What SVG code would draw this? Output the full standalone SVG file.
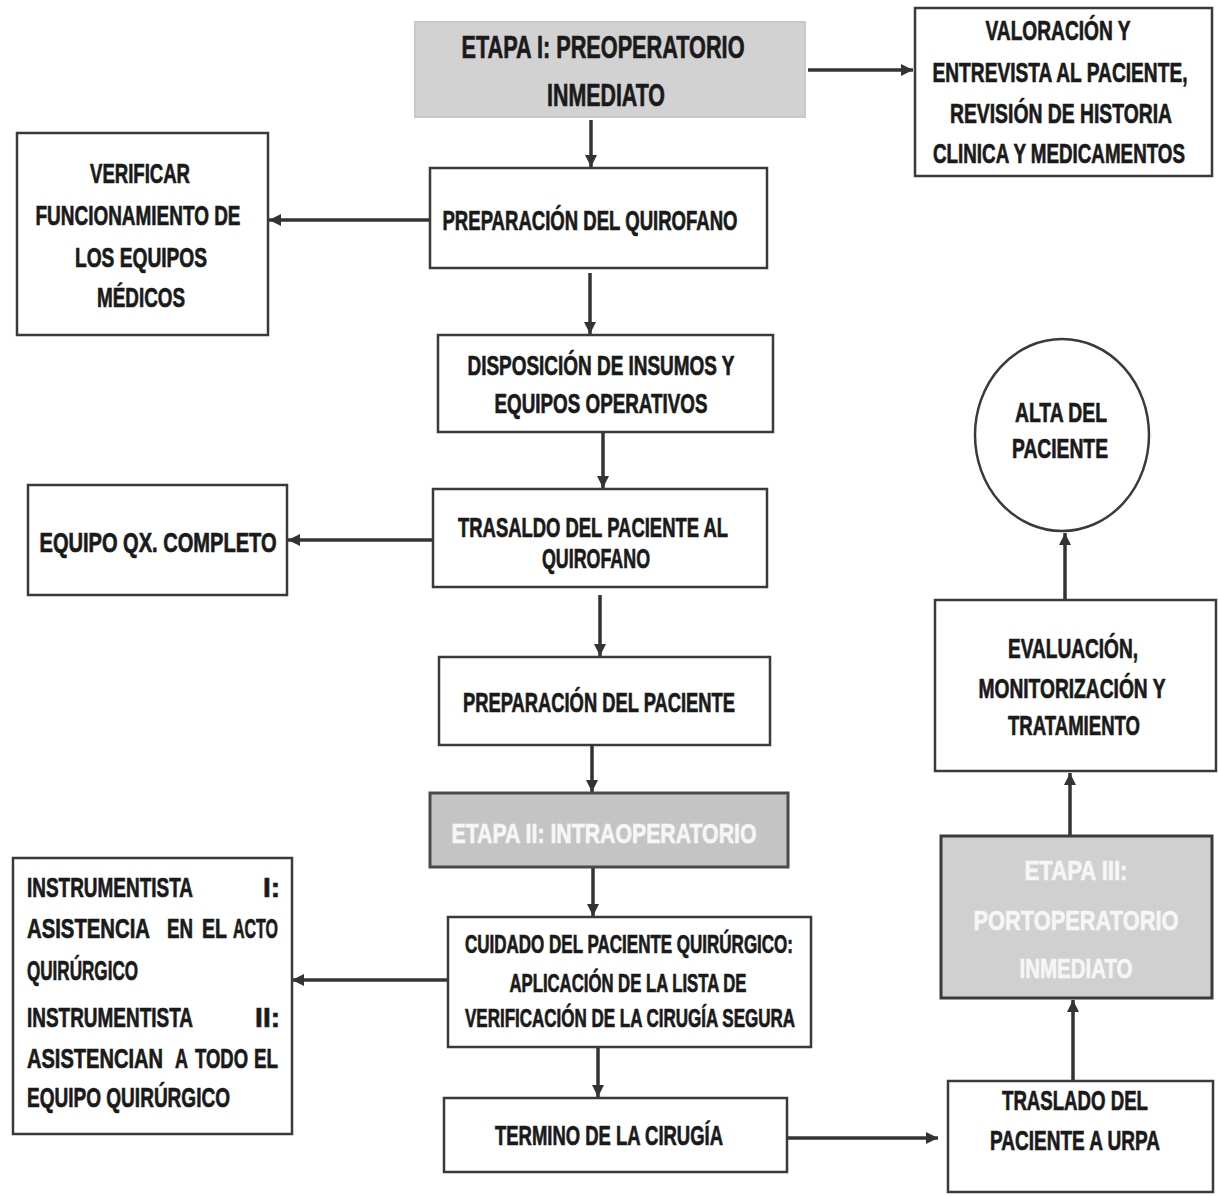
<svg xmlns="http://www.w3.org/2000/svg" width="1218" height="1197" viewBox="0 0 1218 1197">
<defs>
<marker id="ah" viewBox="0 0 10 10" refX="10" refY="5" markerUnits="userSpaceOnUse" markerWidth="12" markerHeight="12" orient="auto">
<path d="M0,0 L10,5 L0,10 z" fill="#333"/>
</marker>
<style>
.box{fill:#fff;stroke:#3a3a3a;stroke-width:2.5}
.g1{fill:#d2d2d2;stroke:#c8c8c8;stroke-width:2}
.g2{fill:#c4c4c4;stroke:#4a4a4a;stroke-width:3}
.g3{fill:#d0d0d0;stroke:#3a3a3a;stroke-width:3}
text{font-family:"Liberation Sans",Arial,sans-serif;font-weight:bold;fill:#1a1a1a;stroke:#1a1a1a;stroke-width:0.7;font-size:28px}
.c{text-anchor:middle}
.w{fill:#f6f6f6;stroke:#f6f6f6}
.sm{font-size:25px}
.lg{font-size:32px}
.conn line{stroke:#333;stroke-width:3.5;marker-end:url(#ah)}
</style>
</defs>
<rect width="1218" height="1197" fill="#fff"/>

<g class="conn" id="connectors">
<line x1="808" y1="70" x2="913" y2="70"/>
<line x1="591" y1="120" x2="591" y2="167"/>
<line x1="430" y1="220" x2="269" y2="220"/>
<line x1="590" y1="273" x2="590" y2="334"/>
<line x1="603" y1="432" x2="603" y2="488"/>
<line x1="433" y1="540" x2="288" y2="540"/>
<line x1="600" y1="595" x2="600" y2="656"/>
<line x1="592" y1="746" x2="592" y2="792"/>
<line x1="593" y1="868" x2="593" y2="916"/>
<line x1="448" y1="980" x2="292" y2="980"/>
<line x1="598" y1="1047" x2="598" y2="1097"/>
<line x1="787" y1="1138" x2="938" y2="1138"/>
<line x1="1073" y1="1080" x2="1073" y2="1000"/>
<line x1="1070" y1="836" x2="1070" y2="773"/>
<line x1="1065" y1="600" x2="1065" y2="533"/>
</g>

<g id="etapa1">
<rect class="g1" x="415" y="22" width="390" height="95"/>
<text class="c lg" x="603" y="58" textLength="283" lengthAdjust="spacingAndGlyphs">ETAPA I: PREOPERATORIO</text>
<text class="c lg" x="606" y="106" textLength="118" lengthAdjust="spacingAndGlyphs">INMEDIATO</text>
</g>

<g id="valoracion">
<rect class="box" x="915" y="8" width="297" height="168"/>
<text class="c" x="1058" y="40" textLength="145" lengthAdjust="spacingAndGlyphs">VALORACIÓN Y</text>
<text class="c" x="1060" y="82" textLength="255" lengthAdjust="spacingAndGlyphs">ENTREVISTA AL PACIENTE,</text>
<text class="c" x="1061" y="123" textLength="222" lengthAdjust="spacingAndGlyphs">REVISIÓN DE HISTORIA</text>
<text class="c" x="1059" y="163" textLength="252" lengthAdjust="spacingAndGlyphs">CLINICA Y MEDICAMENTOS</text>
</g>

<g id="verificar">
<rect class="box" x="17" y="133" width="251" height="202"/>
<text class="c" x="140" y="183" textLength="100" lengthAdjust="spacingAndGlyphs">VERIFICAR</text>
<text class="c" x="138" y="225" textLength="205" lengthAdjust="spacingAndGlyphs">FUNCIONAMIENTO DE</text>
<text class="c" x="141" y="267" textLength="132" lengthAdjust="spacingAndGlyphs">LOS EQUIPOS</text>
<text class="c" x="141" y="307" textLength="88" lengthAdjust="spacingAndGlyphs">MÉDICOS</text>
</g>

<g id="prep-quirofano">
<rect class="box" x="430" y="168" width="337" height="100"/>
<text class="c" x="590" y="230" textLength="295" lengthAdjust="spacingAndGlyphs">PREPARACIÓN DEL QUIROFANO</text>
</g>

<g id="disposicion">
<rect class="box" x="438" y="335" width="335" height="97"/>
<text class="c" x="601" y="375" textLength="267" lengthAdjust="spacingAndGlyphs">DISPOSICIÓN DE INSUMOS Y</text>
<text class="c" x="601" y="413" textLength="213" lengthAdjust="spacingAndGlyphs">EQUIPOS OPERATIVOS</text>
</g>

<g id="equipo-qx">
<rect class="box" x="28" y="485" width="259" height="110"/>
<text class="c" x="158" y="552" textLength="237" lengthAdjust="spacingAndGlyphs">EQUIPO QX. COMPLETO</text>
</g>

<g id="trasaldo">
<rect class="box" x="433" y="489" width="334" height="98"/>
<text class="c" x="593" y="537" textLength="270" lengthAdjust="spacingAndGlyphs">TRASALDO DEL PACIENTE AL</text>
<text class="c" x="596" y="568" textLength="108" lengthAdjust="spacingAndGlyphs">QUIROFANO</text>
</g>

<g id="prep-paciente">
<rect class="box" x="439" y="657" width="331" height="88"/>
<text class="c" x="599" y="712" textLength="272" lengthAdjust="spacingAndGlyphs">PREPARACIÓN DEL PACIENTE</text>
</g>

<g id="etapa2">
<rect class="g2" x="430" y="793" width="358" height="74"/>
<text class="c w" x="604" y="843" textLength="305" lengthAdjust="spacingAndGlyphs">ETAPA II: INTRAOPERATORIO</text>
</g>

<g id="cuidado">
<rect class="box" x="448" y="917" width="363" height="130"/>
<text class="c sm" x="629" y="953" textLength="328" lengthAdjust="spacingAndGlyphs">CUIDADO DEL PACIENTE QUIRÚRGICO:</text>
<text class="c sm" x="628" y="992" textLength="237" lengthAdjust="spacingAndGlyphs">APLICACIÓN DE LA LISTA DE</text>
<text class="c sm" x="630" y="1027" textLength="330" lengthAdjust="spacingAndGlyphs">VERIFICACIÓN DE LA CIRUGÍA SEGURA</text>
</g>

<g id="instrumentista">
<rect class="box" x="13" y="858" width="279" height="276"/>
<text x="27" y="897" textLength="166" lengthAdjust="spacingAndGlyphs">INSTRUMENTISTA</text>
<text x="280" y="897" text-anchor="end">I:</text>
<text x="27" y="938" textLength="123" lengthAdjust="spacingAndGlyphs">ASISTENCIA</text>
<text x="167" y="938" textLength="26" lengthAdjust="spacingAndGlyphs">EN</text>
<text x="202" y="938" textLength="25" lengthAdjust="spacingAndGlyphs">EL</text>
<text x="233" y="938" textLength="45" lengthAdjust="spacingAndGlyphs">ACTO</text>
<text x="27" y="980" textLength="111" lengthAdjust="spacingAndGlyphs">QUIRÚRGICO</text>
<text x="27" y="1027" textLength="166" lengthAdjust="spacingAndGlyphs">INSTRUMENTISTA</text>
<text x="280" y="1027" text-anchor="end">II:</text>
<text x="27" y="1068" textLength="136" lengthAdjust="spacingAndGlyphs">ASISTENCIAN</text>
<text x="175" y="1068" textLength="13" lengthAdjust="spacingAndGlyphs">A</text>
<text x="195" y="1068" textLength="53" lengthAdjust="spacingAndGlyphs">TODO</text>
<text x="254" y="1068" textLength="24" lengthAdjust="spacingAndGlyphs">EL</text>
<text x="27" y="1107" textLength="203" lengthAdjust="spacingAndGlyphs">EQUIPO QUIRÚRGICO</text>
</g>

<g id="termino">
<rect class="box" x="444" y="1098" width="343" height="74"/>
<text class="c" x="609" y="1145" textLength="228" lengthAdjust="spacingAndGlyphs">TERMINO DE LA CIRUGÍA</text>
</g>

<g id="traslado-urpa">
<rect class="box" x="948" y="1081" width="265" height="111"/>
<text class="c" x="1075" y="1110" textLength="146" lengthAdjust="spacingAndGlyphs">TRASLADO DEL</text>
<text class="c" x="1075" y="1150" textLength="170" lengthAdjust="spacingAndGlyphs">PACIENTE A URPA</text>
</g>

<g id="etapa3">
<rect class="g3" x="941" y="836" width="271" height="162"/>
<text class="c w" x="1076" y="880" textLength="103" lengthAdjust="spacingAndGlyphs">ETAPA III:</text>
<text class="c w" x="1076" y="930" textLength="205" lengthAdjust="spacingAndGlyphs">PORTOPERATORIO</text>
<text class="c w" x="1076" y="978" textLength="113" lengthAdjust="spacingAndGlyphs">INMEDIATO</text>
</g>

<g id="evaluacion">
<rect class="box" x="935" y="600" width="281" height="171"/>
<text class="c" x="1073" y="658" textLength="130" lengthAdjust="spacingAndGlyphs">EVALUACIÓN,</text>
<text class="c" x="1072" y="698" textLength="187" lengthAdjust="spacingAndGlyphs">MONITORIZACIÓN Y</text>
<text class="c" x="1074" y="735" textLength="132" lengthAdjust="spacingAndGlyphs">TRATAMIENTO</text>
</g>

<g id="alta">
<ellipse class="box" cx="1062" cy="435" rx="87" ry="96"/>
<text class="c" x="1061" y="422" textLength="92" lengthAdjust="spacingAndGlyphs">ALTA DEL</text>
<text class="c" x="1060" y="458" textLength="96" lengthAdjust="spacingAndGlyphs">PACIENTE</text>
</g>
</svg>
